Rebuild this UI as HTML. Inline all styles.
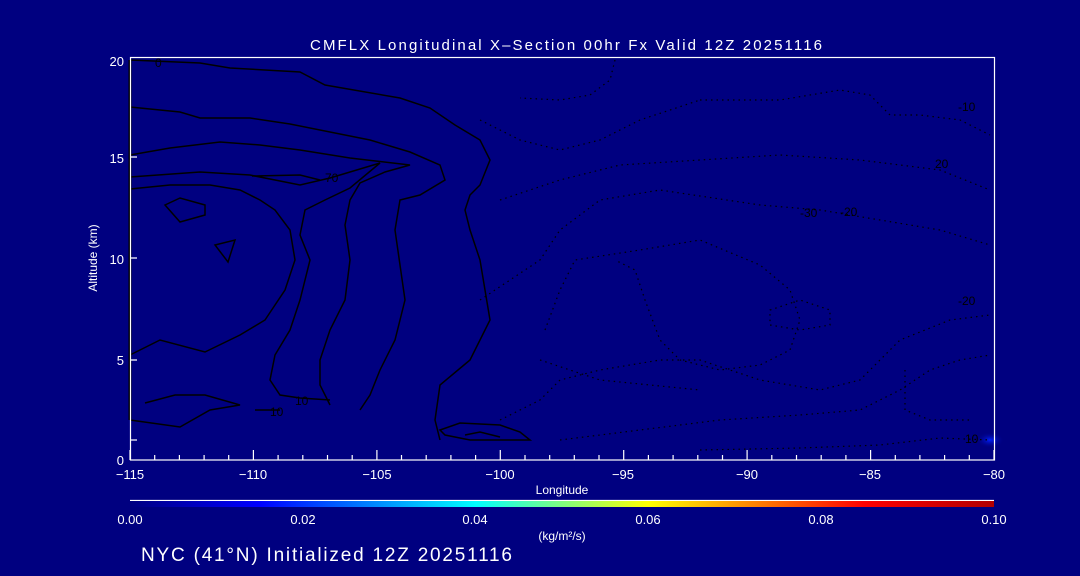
<!DOCTYPE html>
<html><head><meta charset="utf-8"><style>
html,body{margin:0;padding:0;background:#000080;}
svg{display:block}
text{font-family:"Liberation Sans",sans-serif;fill:#fff}
</style></head><body>
<svg width="1080" height="576" viewBox="0 0 1080 576" xmlns="http://www.w3.org/2000/svg">
<defs>
<linearGradient id="cb" x1="0" x2="1" y1="0" y2="0">
<stop offset="0" stop-color="#000080"/>
<stop offset="0.15" stop-color="#0000ff"/>
<stop offset="0.4" stop-color="#00ffff"/>
<stop offset="0.6" stop-color="#ffff00"/>
<stop offset="0.85" stop-color="#ff0000"/>
<stop offset="1" stop-color="#b00000"/>
</linearGradient>
<radialGradient id="spot" cx="0.5" cy="0.5" r="0.5">
<stop offset="0" stop-color="#0020ff"/><stop offset="1" stop-color="#000080" stop-opacity="0"/>
</radialGradient>
</defs>
<rect width="1080" height="576" fill="#000080"/>
<text x="310" y="50" font-size="15" textLength="512" lengthAdjust="spacing">CMFLX Longitudinal X–Section 00hr  Fx Valid 12Z 20251116</text>
<ellipse cx="990" cy="440" rx="14" ry="8" fill="url(#spot)"/>
<g fill="none" stroke="#000" stroke-width="1.5">
<path d="M130 60 L200 63 L230 68 L300 72 L325 85 L400 98 L430 108 L455 125 L480 140 L490 160 L480 185 L470 195 L465 210 L470 230 L480 260 L490 320 L470 360 L440 385 L435 420 L440 440"/>
<path d="M130 107 L180 112 L200 118 L250 118 L290 124 L340 134 L370 140 L410 152 L440 165 L445 180 L420 195 L400 200 L395 230 L405 300 L395 340 L380 370 L370 395 L360 410"/>
<path d="M130 155 L170 148 L220 142 L260 145 L300 150 L350 158 L410 165 L385 172 L360 183 L350 200 L345 225 L350 260 L345 300 L330 330 L320 360 L320 385 L330 405"/>
<path d="M130 177 L200 172 L250 175 L300 185 L330 178 L380 163 L350 188 L325 200 L305 210 L300 235 L310 260 L300 300 L290 330 L275 355 L270 380 L280 395 L300 398 L330 400"/>
<path d="M130 189 L170 185 L210 185 L240 190 L260 200 L275 210 L290 230 L295 260 L285 290 L265 320 L240 335 L205 352 L160 340 L130 355"/>
<path d="M252 176 L300 175 L320 180"/>
<path d="M165 205 L180 198 L205 205 L205 215 L180 222 Z"/>
<path d="M215 245 L235 240 L228 262 Z"/>
<path d="M145 403 L175 395 L205 395 L240 405 L210 410 L180 427 L130 420"/>
<path d="M255 410 L280 410"/>
<path d="M440 430 L460 423 L500 425 L520 432 L530 440 L500 440 L470 440 L445 435 Z"/>
<path d="M465 435 L480 432 L500 437"/>
<path d="M130 60 L130 420" stroke-width="3"/>
</g>
<g fill="none" stroke="#000" stroke-width="1.2" stroke-dasharray="1.5 4">
<path d="M615 60 L610 80 L590 95 L560 100 L520 98"/>
<path d="M700 100 L780 100 L840 90 L870 95 L890 115 L920 115 L960 120 L990 135"/>
<path d="M480 120 L520 140 L560 150 L600 140 L640 120 L700 100"/>
<path d="M500 200 L560 180 L620 165 L700 160 L780 155 L860 160 L900 165 L940 170 L990 190"/>
<path d="M480 300 L540 260 L560 230 L600 200 L660 190 L760 205 L820 210 L880 220 L940 230 L990 245"/>
<path d="M545 330 L560 290 L575 260 L640 250 L700 240 L760 265 L790 290 L800 320 L790 350 L760 365 L720 370 L680 360 L660 340 L645 300 L635 270 L615 260"/>
<path d="M770 310 L800 300 L830 310 L830 325 L800 330 L770 325 Z"/>
<path d="M500 420 L540 400 L560 380 L600 370 L660 360 L700 360 L760 380 L820 390 L860 380 L880 360 L900 340 L950 320 L990 315"/>
<path d="M560 440 L640 430 L720 420 L800 415 L860 410 L900 390 L930 370 L960 360 L990 355"/>
<path d="M905 370 L905 410 L930 420 L970 420"/>
<path d="M700 450 L800 448 L880 445 L940 438 L990 440"/>
<path d="M540 360 L600 380 L650 385 L700 390"/>
</g>
<g font-size="12">
<text x="155" y="67" style="fill:#000">0</text>
<text x="325" y="182" style="fill:#000">70</text>
<text x="295" y="405" style="fill:#000">10</text>
<text x="270" y="416" style="fill:#000">10</text>
<text x="958" y="111" style="fill:#000">-10</text>
<text x="935" y="168" style="fill:#000">20</text>
<text x="800" y="217" style="fill:#000">-30</text>
<text x="840" y="216" style="fill:#000">-20</text>
<text x="958" y="305" style="fill:#000">-20</text>
<text x="965" y="443" style="fill:#000">10</text>
</g>
<rect x="130.5" y="57.5" width="864" height="402.5" fill="none" stroke="#fff" stroke-width="1.2"/>
<g stroke="#fff" stroke-width="1.2">
<path d="M130 440 H137"/>
<path d="M130 360 H137 M130 258 H137 M130 157 H137"/>
</g>
<g stroke="#fff" stroke-width="1.2" id="ticks"></g>
<g font-size="13" text-anchor="end">
<text x="124" y="465">0</text>
<text x="124" y="365">5</text>
<text x="124" y="264">10</text>
<text x="124" y="163">15</text>
<text x="124" y="66">20</text>
</g>
<text x="0" y="0" font-size="12" text-anchor="middle" transform="translate(97 258) rotate(-90)">Altitude (km)</text>
<g font-size="13" text-anchor="middle">
<text x="130" y="479">−115</text>
<text x="253" y="479">−110</text>
<text x="377" y="479">−105</text>
<text x="500" y="479">−100</text>
<text x="623" y="479">−95</text>
<text x="747" y="479">−90</text>
<text x="870" y="479">−85</text>
<text x="994" y="479">−80</text>
</g>
<text x="562" y="494" font-size="12" text-anchor="middle">Longitude</text>
<line x1="130" y1="500.5" x2="994" y2="500.5" stroke="#fff" stroke-width="1.2"/>
<rect x="130" y="501" width="864" height="6" fill="url(#cb)"/>
<g font-size="13" text-anchor="middle">
<text x="130" y="524">0.00</text>
<text x="303" y="524">0.02</text>
<text x="475" y="524">0.04</text>
<text x="648" y="524">0.06</text>
<text x="821" y="524">0.08</text>
<text x="994" y="524">0.10</text>
</g>
<text x="562" y="540" font-size="12" text-anchor="middle">(kg/m²/s)</text>
<text x="141" y="561" font-size="19" textLength="371" lengthAdjust="spacing">NYC (41°N) Initialized 12Z 20251116</text>
<script>
var g=document.getElementById('ticks'),s='';
for(var i=0;i<=35;i++){var x=130+i*864/35;var l=(i%5==0)?10:5;s+='M'+x.toFixed(1)+' 460 V'+(460-l)+' ';}
var p=document.createElementNS('http://www.w3.org/2000/svg','path');p.setAttribute('d',s);g.appendChild(p);
</script>
</svg>
</body></html>
